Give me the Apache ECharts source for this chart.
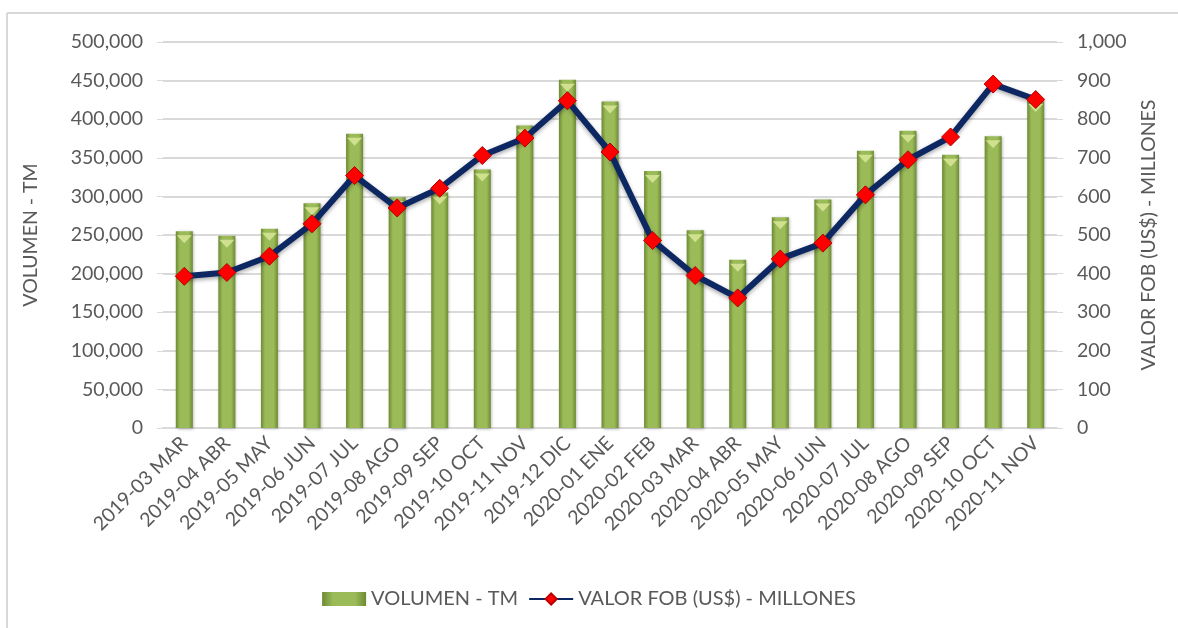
<!DOCTYPE html>
<html>
<head>
<meta charset="utf-8">
<script src="https://cdn.jsdelivr.net/npm/echarts@6/dist/echarts.min.js"></script>
<style>
html,body{margin:0;padding:0;background:#fff;}
#chart{width:1178px;height:628px;}
</style>
</head>
<body>
<div id="chart"></div>
<script>
var categories = ['2019-03 MAR','2019-04 ABR','2019-05 MAY','2019-06 JUN','2019-07 JUL','2019-08 AGO','2019-09 SEP','2019-10 OCT','2019-11 NOV','2019-12 DIC','2020-01 ENE','2020-02 FEB','2020-03 MAR','2020-04 ABR','2020-05 MAY','2020-06 JUN','2020-07 JUL','2020-08 AGO','2020-09 SEP','2020-10 OCT','2020-11 NOV'];
var volumen = [255000, 249000, 258000, 291000, 381000, 299000, 305000, 335000, 392000, 451000, 423000, 333000, 256000, 218000, 273000, 296000, 359000, 385000, 354000, 378000, 425000];
var valorFob = [393, 403, 445, 529, 654, 570, 621, 706, 751, 848, 715, 486, 395, 337, 438, 479, 604, 695, 754, 891, 851];
var leftTicks = {min: 0, max: 500000, interval: 50000};
var rightTicks = {min: 0, max: 1000, interval: 100};

var FONT = 'Lato';
var TXT = '#595959';
var chart = echarts.init(document.getElementById('chart'), null, {renderer: 'canvas'});
function fmt(v){ return v.toLocaleString('en-US'); }

chart.setOption({
  backgroundColor: '#ffffff',
  animation: false,
  textStyle: {fontFamily: FONT},
  graphic: [
    {type: 'line', shape: {x1: 7, y1: 13, x2: 1178, y2: 13}, style: {stroke: '#d9d9d9', lineWidth: 2}},
    {type: 'line', shape: {x1: 7, y1: 13, x2: 7, y2: 628}, style: {stroke: '#d9d9d9', lineWidth: 2}}
  ],
  grid: {left: 163, right: 121, top: 42, bottom: 200, containLabel: false},
  legend: {
    bottom: 14,
    left: 'center',
    itemGap: 10,
    itemWidth: 44,
    itemHeight: 14,
    textStyle: {fontFamily: FONT, fontSize: 20, color: TXT},
    data: [
      {name: 'VOLUMEN - TM', icon: 'rect'},
      {name: 'VALOR FOB (US$) - MILLONES'}
    ]
  },
  xAxis: {
    type: 'category',
    data: categories,
    axisLine: {lineStyle: {color: '#d9d9d9', width: 2}},
    axisTick: {show: false},
    axisLabel: {rotate: 45, margin: 12, fontFamily: FONT, fontSize: 19.5, color: TXT, interval: 0}
  },
  yAxis: [
    {
      type: 'value', min: leftTicks.min, max: leftTicks.max, interval: leftTicks.interval,
      name: 'VOLUMEN - TM', nameLocation: 'middle', nameRotate: 90, nameGap: 122,
      nameTextStyle: {fontFamily: FONT, fontSize: 19.5, color: TXT},
      axisLine: {show: false},
      axisTick: {show: true, length: 6, lineStyle: {color: '#d9d9d9'}},
      axisLabel: {margin: 20, fontFamily: FONT, fontSize: 19.5, color: TXT, formatter: fmt},
      splitLine: {lineStyle: {color: '#d9d9d9', width: 2}}
    },
    {
      type: 'value', min: rightTicks.min, max: rightTicks.max, interval: rightTicks.interval,
      name: 'VALOR FOB (US$) - MILLONES', nameLocation: 'middle', nameRotate: 90, nameGap: 82,
      nameTextStyle: {fontFamily: FONT, fontSize: 19.5, color: TXT},
      axisLine: {show: false},
      axisTick: {show: true, length: 6, lineStyle: {color: '#d9d9d9'}},
      axisLabel: {margin: 20, fontFamily: FONT, fontSize: 19.5, color: TXT, formatter: fmt},
      splitLine: {show: false}
    }
  ],
  series: [
    {
      name: 'VOLUMEN - TM',
      type: 'bar',
      yAxisIndex: 0,
      barWidth: 17,
      barGap: '-100%',
      data: volumen,
      itemStyle: {
        color: new echarts.graphic.LinearGradient(0, 0, 1, 0, [
          {offset: 0, color: '#6d8a33'},
          {offset: 0.25, color: '#9bbb59'},
          {offset: 0.75, color: '#9bbb59'},
          {offset: 1, color: '#6d8a33'}
        ]),
        shadowColor: 'rgba(0,0,0,0.3)', shadowBlur: 3, shadowOffsetX: 1, shadowOffsetY: 1
      },
      z: 2
    },
    {
      name: 'bevel',
      type: 'pictorialBar',
      yAxisIndex: 0,
      barWidth: 17,
      barGap: '-100%',
      symbol: 'triangle',
      symbolRotate: 180,
      symbolSize: [15, 8],
      symbolPosition: 'end',
      symbolOffset: [0, '50%'],
      data: volumen,
      itemStyle: {color: '#cfe08f'},
      legendHoverLink: false,
      silent: true,
      z: 3
    },
    {
      name: 'VALOR FOB (US$) - MILLONES',
      type: 'line',
      yAxisIndex: 1,
      data: valorFob,
      symbol: 'diamond',
      symbolSize: 18,
      lineStyle: {color: '#0d2763', width: 6, shadowColor: 'rgba(0,0,0,0.35)', shadowBlur: 4, shadowOffsetY: 2},
      itemStyle: {color: '#ff0000', borderColor: '#b80000', borderWidth: 1},
      z: 5
    }
  ]
});
</script>
</body>
</html>
